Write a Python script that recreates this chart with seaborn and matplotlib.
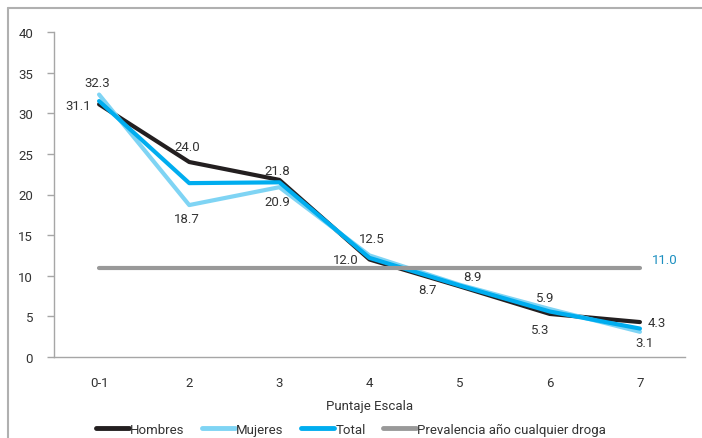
import matplotlib
matplotlib.use("Agg")
import matplotlib.pyplot as plt
import numpy as np
import pandas as pd
import seaborn as sns
from matplotlib.lines import Line2D

categories = ["0-1", "2", "3", "4", "5", "6", "7"]
hombres = [31.1, 24.0, 21.8, 12.0, 8.7, 5.3, 4.3]
mujeres = [32.3, 18.7, 20.9, 12.5, 8.9, 5.9, 3.1]
total = [31.5, 21.4, 21.5, 12.2, 8.8, 5.6, 3.5]
prevalencia = [11.0] * 7
series_names = ["Hombres", "Mujeres", "Total", "Prevalencia año cualquier droga"]

colors = {
    "Hombres": "#231f20",
    "Mujeres": "#7fd4f4",
    "Total": "#00adef",
    "Prevalencia año cualquier droga": "#999999",
}

pos = np.arange(len(categories))
df = pd.concat([
    pd.DataFrame({"pos": pos, "valor": vals, "serie": name})
    for name, vals in zip(series_names, [hombres, mujeres, total, prevalencia])
])

sns.set_style("white")
plt.rcParams["font.family"] = ["Roboto", "DejaVu Sans"]
fs = 9.5

fig = plt.figure(figsize=(7.02, 4.39), dpi=100)
ax = fig.add_axes([54 / 702, 1 - 358 / 439, (685 - 54) / 702, (358 - 33) / 439])

sns.lineplot(data=df, x="pos", y="valor", hue="serie", hue_order=series_names,
             palette=colors, linewidth=3, legend=False, ax=ax)

text_color = "#333333"
# label offsets in points
h_off = [(-15, -1), (-1.5, 11), (-1.5, 7), (-17, 0), (-23, -2), (-7, -11), (12, 0)]
m_off = [(-1.5, 9), (-1.5, -10), (-1.5, -10), (1.5, 12), (9, 6), (-3.5, 8), (3, -8)]
for i in range(len(categories)):
    ax.annotate(f"{hombres[i]:.1f}", (pos[i], hombres[i]), xytext=h_off[i],
                textcoords="offset points", ha="center", va="center",
                fontsize=fs, color=text_color)
    ax.annotate(f"{mujeres[i]:.1f}", (pos[i], mujeres[i]), xytext=m_off[i],
                textcoords="offset points", ha="center", va="center",
                fontsize=fs, color=text_color)
ax.annotate(f"{prevalencia[-1]:.1f}", (pos[-1], prevalencia[-1]), xytext=(18, 5.5),
            textcoords="offset points", ha="center", va="center",
            fontsize=fs, color="#1b8fc0")

ax.set_xlim(-0.5, len(categories) - 0.5)
ax.set_ylim(0, 40)
ax.set_yticks(range(0, 41, 5))
ax.set_xticks(pos)
ax.set_xticklabels(categories)
ax.set_xticks(np.arange(-0.5, len(categories)), minor=True)
ax.tick_params(axis="x", which="major", length=0, pad=14, labelsize=fs, colors=text_color)
ax.tick_params(axis="x", which="minor", length=5, width=1, color="#a6a6a6", direction="out")
ax.tick_params(axis="y", length=5, width=1, color="#a6a6a6", pad=10, labelsize=fs,
               labelcolor=text_color, left=True)

for side in ["top", "right"]:
    ax.spines[side].set_visible(False)
for side in ["left", "bottom"]:
    ax.spines[side].set_color("#a6a6a6")
    ax.spines[side].set_linewidth(1)

ax.set_xlabel("Puntaje Escala", fontsize=fs, color=text_color, labelpad=7)
ax.set_ylabel("")

handles = [Line2D([0], [0], color=colors[n], lw=3.5) for n in series_names]
fig.legend(handles, series_names, loc="center", bbox_to_anchor=(351 / 702, 1 - 430 / 439),
           ncol=4, frameon=False, fontsize=fs, handlelength=2.5, handletextpad=0.1,
           columnspacing=1.3, labelcolor=text_color)

# outer frame lines (top and left)
fig.add_artist(Line2D([8 / 702, 8 / 702], [0, 1 - 9 / 439], color="#b0b0b0", lw=1.5))
fig.add_artist(Line2D([8 / 702, 1], [1 - 9 / 439, 1 - 9 / 439], color="#b0b0b0", lw=1.5))

fig.savefig("out.png", dpi=100)
